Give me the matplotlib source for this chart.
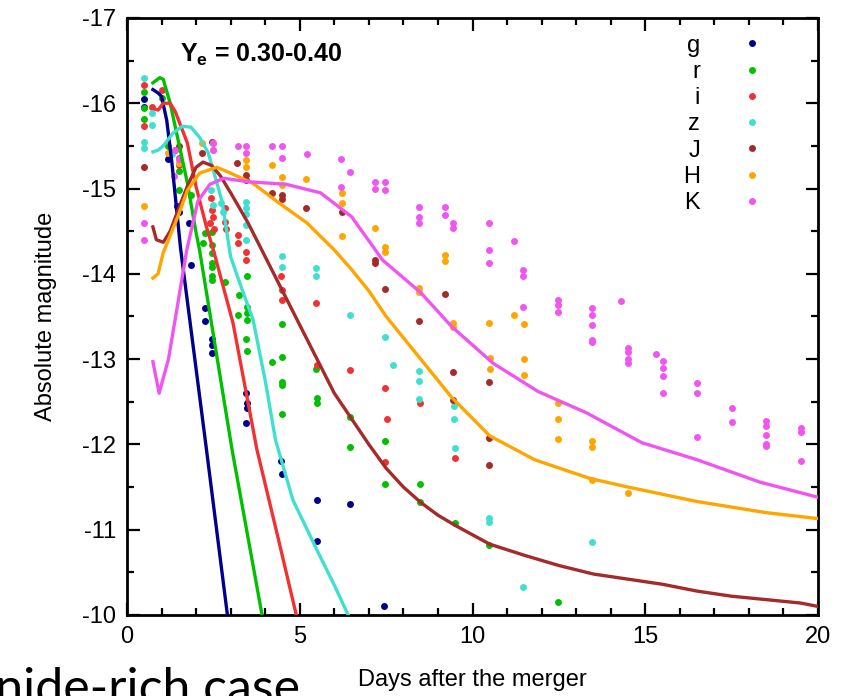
import matplotlib
matplotlib.use("Agg")
import matplotlib.pyplot as plt
import numpy as np

plt.rcParams['font.family'] = ['Liberation Sans', 'DejaVu Sans']
plt.rcParams['mathtext.fontset'] = 'custom'
plt.rcParams['mathtext.rm'] = 'Liberation Sans'
plt.rcParams['mathtext.bf'] = 'Liberation Sans:bold'
plt.rcParams['axes.unicode_minus'] = False

bands = ['g', 'r', 'i', 'z', 'J', 'H', 'K']
colors = ['#00008b', '#00c000', '#f03232', '#40e0d0', '#a52a2a', '#ffa500', '#f055f0']

# model light curves (days, magnitude)
g_line_t = [0.75, 0.9, 1.0, 1.15, 1.3, 1.55, 2.3, 2.9]
g_line_m = [-16.16, -16.12, -16.08, -15.8, -15.3, -14.3, -11.94, -10.02]
r_line_t = [0.75, 0.95, 1.05, 1.25, 1.5, 1.75, 2.0, 2.1, 3.04, 3.9]
r_line_m = [-16.24, -16.3, -16.28, -16.0, -15.53, -15.06, -14.48, -14.28, -11.94, -10.02]
i_line_t = [0.75, 0.9, 1.05, 1.25, 1.4, 1.75, 2.0, 2.3, 2.5, 3.07, 3.76, 4.34, 4.9]
i_line_m = [-15.94, -15.92, -16.0, -16.0, -15.9, -15.53, -15.02, -14.55, -14.28, -13.42, -11.94, -10.96, -10.0]
z_line_t = [0.75, 0.9, 1.05, 1.33, 1.6, 1.85, 2.1, 2.35, 2.55, 2.75, 3.0, 3.3, 3.65, 4.0, 4.3, 4.8, 5.5, 6.0, 6.4]
z_line_m = [-15.43, -15.45, -15.5, -15.65, -15.73, -15.72, -15.6, -15.42, -15.14, -14.85, -14.2, -13.85,
            -13.46, -12.75, -12.05, -11.35, -10.76, -10.35, -10.0]
J_line_t = [0.75, 0.85, 1.05, 1.25, 1.5, 1.75, 2.0, 2.2, 2.45, 2.7, 3.0, 3.5, 4.0, 4.5, 5.0, 5.5, 6.0, 6.5,
            7.0, 7.5, 8.0, 8.5, 9.0, 9.5, 10.5, 11.5, 12.5, 13.5, 14.5, 15.5, 16.5, 17.5, 18.5, 19.5, 20]
J_line_m = [-14.55, -14.4, -14.37, -14.5, -14.77, -15.03, -15.25, -15.31, -15.27, -15.15, -14.95, -14.6,
            -14.2, -13.8, -13.4, -13.0, -12.6, -12.3, -12.0, -11.72, -11.5, -11.32, -11.17, -11.05, -10.83,
            -10.7, -10.58, -10.48, -10.42, -10.36, -10.28, -10.22, -10.18, -10.14, -10.1]
H_line_t = [0.75, 0.9, 1.05, 1.25, 1.5, 1.75, 2.1, 2.6, 3.0, 3.65, 4.4, 5.2, 6.0, 6.5, 7.0, 7.5, 8.5, 9.4,
            10.5, 11.8, 13.4, 14.5, 16.5, 18.5, 20]
H_line_m = [-13.95, -14.0, -14.25, -14.45, -14.7, -14.98, -15.18, -15.25, -15.18, -15.06, -14.83, -14.6,
            -14.28, -14.05, -13.8, -13.5, -13.0, -12.55, -12.1, -11.82, -11.6, -11.5, -11.33, -11.2, -11.13]
K_line_t = [0.75, 0.93, 1.2, 1.45, 1.73, 2.05, 2.4, 2.8, 3.5, 4.6, 5.6, 6.5, 7.4, 8.5, 9.4, 10.6, 11.9,
            13.3, 14.9, 16.5, 18.3, 20]
K_line_m = [-12.97, -12.6, -13.0, -13.6, -14.28, -14.85, -15.05, -15.12, -15.08, -15.05, -14.95, -14.67,
            -14.16, -13.78, -13.38, -12.95, -12.62, -12.37, -12.02, -11.82, -11.56, -11.38]

# observed points (days, magnitude)
g_obs_t = [0.5, 0.5, 1.2, 1.45, 1.5, 1.8, 1.85, 2.25, 2.25, 2.45, 2.45, 2.45, 3.45, 3.48, 3.48, 3.45,
           4.45, 4.48, 5.5, 5.5, 6.45, 7.45]
g_obs_m = [-16.05, -15.96, -15.35, -14.8, -14.72, -14.6, -14.1, -13.6, -13.45, -13.23, -13.17, -13.07,
           -12.6, -12.48, -12.43, -12.25, -11.8, -11.65, -11.35, -10.87, -11.3, -10.1]
r_obs_t = [0.5, 0.5, 0.5, 1.0, 1.2, 1.5, 1.5, 1.85, 2.26, 2.2, 2.46, 2.46, 2.46, 2.46, 2.46, 2.46, 2.46,
           2.84, 3.24, 3.2, 3.47, 3.47, 3.47, 3.47, 3.44, 3.47, 4.2, 4.49, 4.49, 4.49, 4.49, 4.49, 5.47,
           5.5, 5.5, 6.45, 6.45, 7.47, 7.47, 8.48, 8.48, 9.5, 10.48, 12.47]
r_obs_m = [-16.13, -15.94, -15.82, -16.06, -15.5, -15.2, -14.98, -14.93, -14.48, -14.36, -14.49, -14.34,
           -14.24, -14.13, -14.08, -13.98, -13.93, -13.9, -13.75, -13.52, -13.98, -13.61, -13.54, -13.46,
           -13.24, -13.09, -12.97, -13.41, -13.03, -12.73, -12.7, -12.36, -12.88, -12.54, -12.48, -12.32,
           -11.97, -12.04, -11.54, -11.53, -11.33, -11.08, -10.82, -10.15]
i_obs_t = [0.5, 0.5, 0.72, 1.0, 1.4, 1.5, 1.5, 2.43, 2.46, 2.5, 2.4, 2.52, 2.84, 2.84, 2.86, 3.2, 3.2,
           3.44, 3.44, 4.46, 4.49, 4.49, 5.47, 5.5, 6.45, 7.47, 7.52, 7.47, 8.48, 9.5]
i_obs_m = [-16.21, -15.73, -15.96, -16.15, -15.45, -15.36, -15.28, -14.89, -14.75, -14.67, -14.6, -14.53,
           -14.77, -14.61, -14.52, -14.46, -14.36, -14.26, -14.16, -13.98, -13.81, -13.69, -13.66, -12.93,
           -12.87, -12.66, -12.3, -11.79, -12.48, -11.84]
z_obs_t = [0.5, 0.5, 0.5, 0.72, 0.72, 1.3, 1.5, 2.43, 2.5, 2.72, 2.78, 3.44, 3.44, 3.44, 3.44, 3.44, 4.49,
           4.49, 5.47, 5.47, 6.45, 7.47, 7.7, 8.45, 8.45, 8.45, 9.47, 9.47, 9.5, 10.48, 10.48, 11.46, 13.46]
z_obs_m = [-16.3, -15.55, -15.48, -15.89, -15.75, -15.4, -15.3, -14.98, -14.81, -14.83, -14.73, -14.84,
           -14.77, -14.7, -14.57, -14.4, -14.21, -14.08, -14.07, -13.97, -13.52, -13.26, -12.93, -12.86,
           -12.74, -12.53, -12.45, -12.3, -11.96, -11.14, -11.09, -10.33, -10.86]
J_obs_t = [0.5, 1.5, 2.17, 2.46, 3.18, 3.44, 3.44, 4.2, 4.49, 4.49, 5.18, 6.22, 7.18, 7.18, 7.47, 8.45,
           9.2, 9.44, 9.44, 10.48, 10.48, 10.48]
J_obs_m = [-15.25, -15.5, -15.42, -15.54, -15.3, -15.16, -15.1, -14.95, -14.92, -14.88, -14.77, -14.72,
           -14.13, -14.16, -13.82, -13.45, -13.76, -12.85, -12.52, -12.73, -12.08, -11.76]
H_obs_t = [0.5, 1.2, 1.5, 2.17, 2.5, 2.5, 3.44, 3.44, 4.2, 4.5, 4.5, 5.18, 6.22, 6.22, 6.22, 7.18, 7.47,
           7.47, 8.45, 8.45, 9.2, 9.2, 9.44, 9.44, 10.48, 10.5, 10.5, 11.2, 11.49, 11.5, 11.5, 12.47, 12.47,
           12.47, 13.46, 13.46, 13.46, 14.5]
H_obs_m = [-14.8, -15.42, -15.3, -15.53, -15.53, -15.45, -15.34, -15.25, -15.28, -15.14, -15.04, -15.11,
           -14.95, -14.83, -14.44, -14.54, -14.32, -14.26, -13.83, -13.79, -14.22, -14.15, -13.42, -13.38,
           -13.42, -13.01, -12.88, -13.52, -13.41, -13.0, -12.81, -12.49, -12.3, -12.06, -12.04, -11.97,
           -11.58, -11.43]
K_obs_t = [0.5, 0.5, 1.4, 1.5, 1.35, 2.5, 2.5, 3.2, 3.45, 3.45, 4.2, 4.5, 4.5, 5.2, 6.2, 6.45, 6.2, 7.18,
           7.47, 7.18, 7.47, 8.45, 8.45, 8.45, 9.2, 9.2, 9.44, 9.44, 10.48, 10.48, 10.48, 11.2, 11.46, 11.46,
           11.46, 12.47, 12.47, 12.47, 13.46, 13.46, 13.46, 13.46, 13.46, 14.3, 14.5, 14.5, 14.5, 14.5, 15.3,
           15.5, 15.5, 15.5, 15.5, 16.5, 16.5, 16.5, 17.5, 17.5, 18.5, 18.5, 18.5, 18.5, 18.5, 19.5, 19.5, 19.5]
K_obs_m = [-14.6, -14.4, -15.45, -15.35, -15.15, -15.53, -15.45, -15.5, -15.5, -15.42, -15.5, -15.5,
           -15.36, -15.4, -15.35, -15.19, -15.02, -15.08, -15.08, -15.0, -14.98, -14.78, -14.67, -14.6,
           -14.78, -14.69, -14.6, -14.54, -14.6, -14.28, -14.13, -14.39, -14.04, -13.98, -13.61, -13.69,
           -13.63, -13.55, -13.6, -13.52, -13.4, -13.22, -13.2, -13.68, -13.13, -13.08, -13.0, -12.96, -13.06,
           -12.98, -12.9, -12.8, -12.6, -12.72, -12.6, -12.09, -12.43, -12.26, -12.28, -12.22, -12.11, -12.0,
           -11.98, -12.19, -12.15, -11.8]

lines_t = [g_line_t, r_line_t, i_line_t, z_line_t, J_line_t, H_line_t, K_line_t]
lines_m = [g_line_m, r_line_m, i_line_m, z_line_m, J_line_m, H_line_m, K_line_m]
obs_t = [g_obs_t, r_obs_t, i_obs_t, z_obs_t, J_obs_t, H_obs_t, K_obs_t]
obs_m = [g_obs_m, r_obs_m, i_obs_m, z_obs_m, J_obs_m, H_obs_m, K_obs_m]

fig = plt.figure(figsize=(8.41, 6.96), dpi=100)
ax = fig.add_axes([0.151, 0.1164, 0.8217, 0.8578])

for b, c, t, m in zip(bands, colors, obs_t, obs_m):
    ax.plot(t, m, 'o', color=c, ms=5, mew=0, label=b, zorder=2)
for c, t, m in zip(colors, lines_t, lines_m):
    ax.plot(t, m, '-', color=c, lw=2.4, zorder=3)

ax.set_xlim(0, 20)
ax.set_ylim(-10, -17)
ax.set_xticks([0, 5, 10, 15, 20])
ax.set_xticks(np.arange(0, 21, 1), minor=True)
ax.set_yticks(np.arange(-17, -9, 1))
ax.set_yticks(np.arange(-17, -9.9, 0.5), minor=True)
ax.tick_params(which='both', direction='in', top=True, right=True, width=1.6, labelsize=17, pad=8)
ax.tick_params(which='major', length=9)
ax.tick_params(which='minor', length=5)
for s in ax.spines.values():
    s.set_linewidth(2.0)

ax.set_xlabel('Days after the merger', fontsize=17, labelpad=15)
ax.set_ylabel('Absolute magnitude', fontsize=17, labelpad=18)

ax.text(0.077, 0.938, r'$\mathbf{Y_e}$ = 0.30-0.40', transform=ax.transAxes,
        fontsize=18, fontweight='bold', va='center', ha='left')

leg = ax.legend(loc='upper right', bbox_to_anchor=(0.935, 0.988), frameon=False, markerfirst=False,
                fontsize=17, handlelength=1.0, handletextpad=1.7, labelspacing=0.18, borderaxespad=0)

fig.text(0.357, -0.012, 'lanthanide-rich case', fontsize=36, family='Lato', ha='right', va='baseline')

fig.savefig('out.png', dpi=100)
